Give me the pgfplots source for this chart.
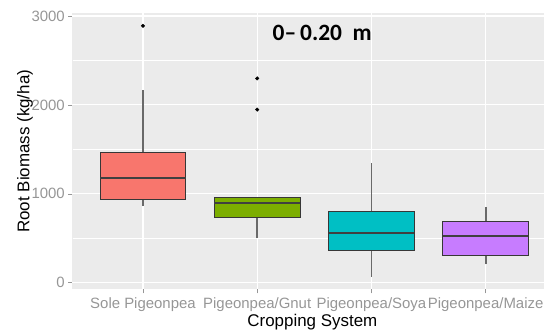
\documentclass[border=0pt]{standalone}
\usepackage{pgfplots}
\pgfplotsset{compat=1.18}
\usepackage{fontspec}
\setmainfont{Liberation Sans}
\newfontfamily\calib{Carlito}
\definecolor{panelgray}{RGB}{235,235,235}
\definecolor{tickgray}{RGB}{150,150,150}
\definecolor{boxdraw}{RGB}{55,55,55}
\definecolor{whiskgray}{RGB}{105,105,105}
\definecolor{cA}{HTML}{F8766D}
\definecolor{cB}{HTML}{7CAE00}
\definecolor{cC}{HTML}{00BFC4}
\definecolor{cD}{HTML}{C77CFF}
\begin{document}
\begin{tikzpicture}
\useasboundingbox (0,0) rectangle (544bp,331bp);
\begin{axis}[
  at={(72.3bp,41.7bp)}, anchor=south west,
  scale only axis, width=471.7bp, height=276bp,
  xmin=0.381, xmax=4.511, ymin=-74, ymax=3030,
  axis background/.style={fill=panelgray},
  axis line style={draw=none},
  xtick={1,2,3,4},
  xticklabels={Sole Pigeonpea,Pigeonpea/Gnut,Pigeonpea/Soya,Pigeonpea/Maize},
  ytick={0,1000,2000,3000},
  minor ytick={500,1500,2500},
  xmajorgrids, ymajorgrids, yminorgrids,
  major grid style={white, line width=1.1bp},
  minor grid style={white, line width=0.5bp},
  tick align=outside, major tick length=4bp, minor tick length=0.01bp,
  xtick pos=lower, ytick pos=left,
  tick style={tickgray, line width=0.6bp},
  /pgf/number format/assume math mode=true,
  /pgf/number format/1000 sep={},
  ticklabel style={font=\fontsize{15}{18}\selectfont, text=tickgray},
  xticklabel style={anchor=base, yshift=-15.5bp},
  yticklabel style={anchor=east},
  xlabel={Cropping System},
  ylabel={Root Biomass (kg/ha)},
  label style={font=\fontsize{17}{20}\selectfont, text=black},
  xlabel style={at={(axis description cs:0.509,-0.119)}, anchor=center},
  ylabel style={at={(axis description cs:-0.1003,0.5)}, anchor=center},
  clip=false,
  whisk/.style={draw=whiskgray, line width=1.8bp},
  box/.style={draw=boxdraw, line width=0.9bp},
  med/.style={draw=black!75, line width=2bp},
  outl/.style={only marks, mark=*, mark size=1.8bp, black},
]
% Sole Pigeonpea: lw 860, q1 935, med 1182, q3 1469, uw 2168
\addplot[whisk] coordinates {(1,860)(1,935)};
\addplot[whisk] coordinates {(1,1469)(1,2168)};
\addplot[box, fill=cA] coordinates {(0.625,935)(1.375,935)(1.375,1469)(0.625,1469)(0.625,935)};
\addplot[med] coordinates {(0.625,1182)(1.375,1182)};
\addplot[outl] coordinates {(1,2889)};
% Pigeonpea/Gnut: lw 498, q1 733, med 901, q3 957
\addplot[whisk] coordinates {(2,498)(2,733)};
\addplot[box, fill=cB] coordinates {(1.625,733)(2.375,733)(2.375,957)(1.625,957)(1.625,733)};
\addplot[med] coordinates {(1.625,901)(2.375,901)};
\addplot[outl] coordinates {(2,2298)(2,1947)};
% Pigeonpea/Soya: lw 67, q1 359, med 557, q3 796, uw 1345
\addplot[whisk] coordinates {(3,67)(3,359)};
\addplot[whisk] coordinates {(3,796)(3,1345)};
\addplot[box, fill=cC] coordinates {(2.625,359)(3.375,359)(3.375,796)(2.625,796)(2.625,359)};
\addplot[med] coordinates {(2.625,557)(3.375,557)};
% Pigeonpea/Maize: lw 206, q1 303, med 524, q3 692, uw 852
\addplot[whisk] coordinates {(4,206)(4,303)};
\addplot[whisk] coordinates {(4,692)(4,852)};
\addplot[box, fill=cD] coordinates {(3.625,303)(4.375,303)(4.375,692)(3.625,692)(3.625,303)};
\addplot[med] coordinates {(3.625,524)(4.375,524)};
\node[font=\calib\bfseries\fontsize{23.5}{27}\selectfont] at (axis cs:2.569,2812) {0–\,0.20\ \ m};
\end{axis}
\end{tikzpicture}
\end{document}
